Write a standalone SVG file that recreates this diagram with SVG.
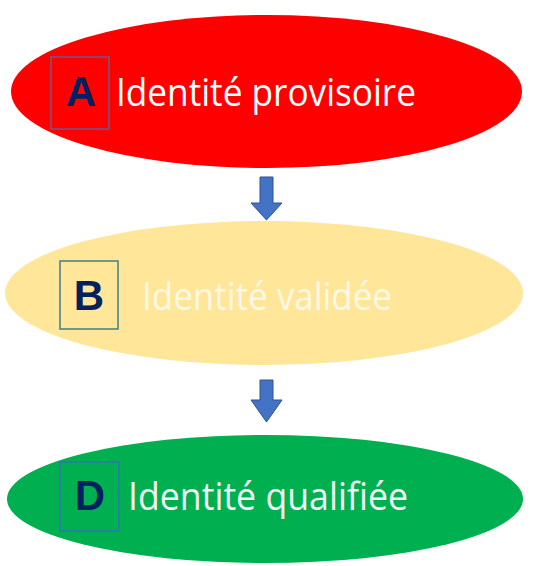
<svg xmlns="http://www.w3.org/2000/svg" width="543" height="566" viewBox="0 0 543 566">
<style>
.lbl{font-family:"Liberation Sans",Arial,sans-serif;font-weight:bold;font-size:42px;fill:#002060;text-anchor:middle}
.txt{font-family:"Open Sans","Liberation Sans",sans-serif;font-size:38px}
.arrow{fill:#4472C4;stroke:#2F528F;stroke-width:1}
</style>
<rect width="543" height="566" fill="#ffffff"/>
<g id="nodeA">
<ellipse cx="266.5" cy="91.5" rx="255.5" ry="76.5" fill="#FF0000"/>
<rect x="51" y="57" width="58" height="72" fill="none" stroke="#6B5A8E" stroke-width="1.5"/>
<text class="lbl" x="81" y="106">A</text>
<text class="txt" x="116" y="106" fill="#FFFFFF" textLength="300" lengthAdjust="spacingAndGlyphs">Identité provisoire</text>
</g>
<g id="nodeB">
<ellipse cx="264" cy="293" rx="259" ry="72" fill="#FFE699"/>
<rect x="60" y="261" width="58" height="68" fill="none" stroke="#3F7F86" stroke-width="1.5"/>
<text class="lbl" x="89" y="310">B</text>
<text class="txt" x="142" y="310" fill="#FFF8E6" textLength="250" lengthAdjust="spacingAndGlyphs">Identité validée</text>
</g>
<g id="nodeD">
<ellipse cx="265" cy="499" rx="258" ry="64" fill="#00B050"/>
<rect x="60" y="462" width="59" height="69" fill="none" stroke="#2E75B6" stroke-width="1.5"/>
<text class="lbl" x="90" y="510">D</text>
<text class="txt" x="128" y="510" fill="#F2F2F2" textLength="280" lengthAdjust="spacingAndGlyphs">Identité qualifiée</text>
</g>
<g id="connectors">
<path class="arrow" d="M260,177 H273 V203 H282 L266.5,220 L251,203 H260 Z"/>
<path class="arrow" d="M260,380 H273 V400 H282 L266.5,422 L251,400 H260 Z"/>
</g>
</svg>
